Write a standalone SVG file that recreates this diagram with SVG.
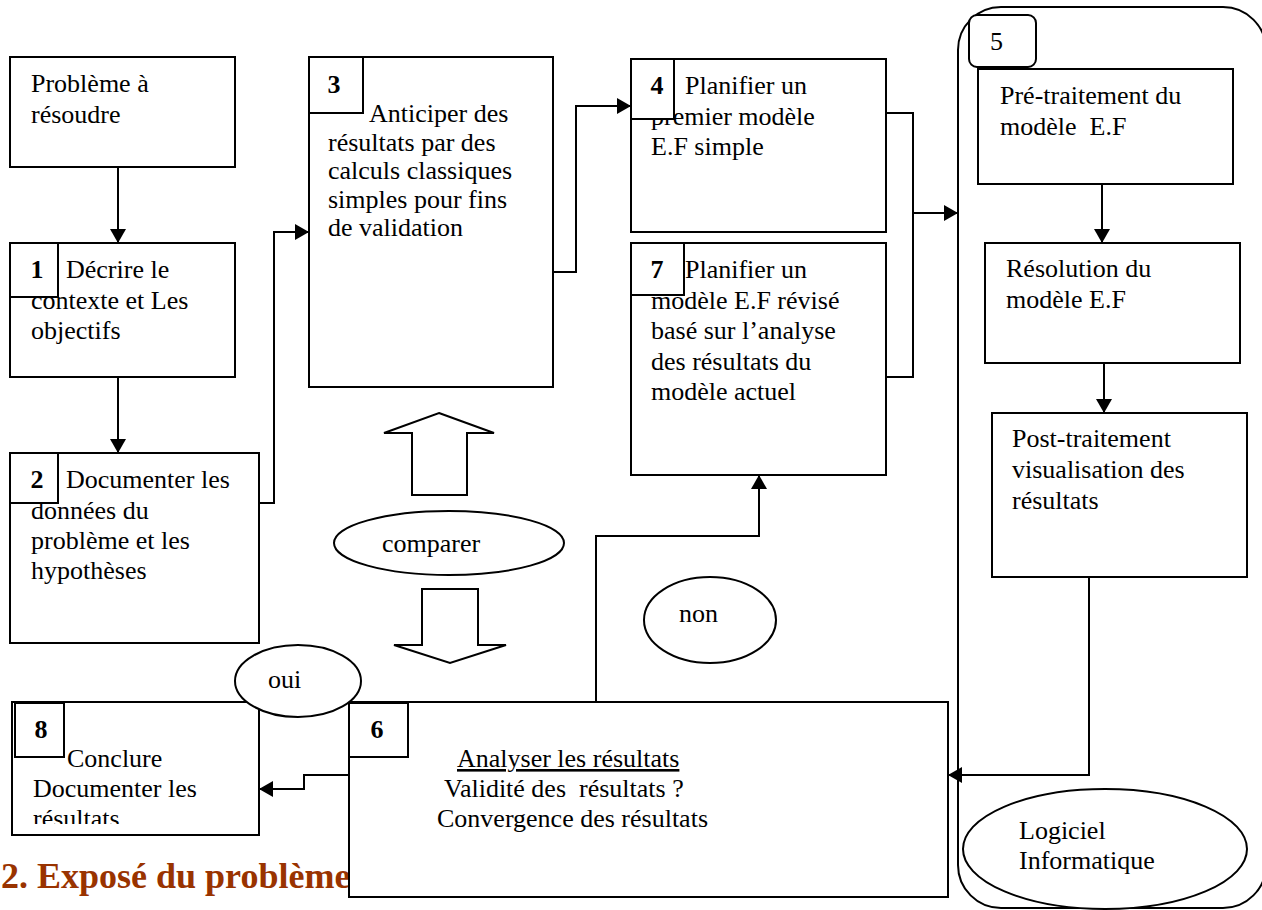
<svg xmlns="http://www.w3.org/2000/svg" width="1262" height="910" viewBox="0 0 1262 910">
<style>
.b{fill:#fff;stroke:#000;stroke-width:2}
.t{font-family:"Liberation Serif","Times New Roman",serif;font-size:26px;fill:#000}
.n{font-family:"Liberation Serif","Times New Roman",serif;font-size:26px;font-weight:bold;fill:#000;text-anchor:middle}
.c{fill:none;stroke:#000;stroke-width:2}
.h{font-family:"Liberation Serif","Times New Roman",serif;font-size:36px;font-weight:bold;fill:#993300}
</style>
<defs>
<marker id="ah" markerUnits="userSpaceOnUse" markerWidth="14" markerHeight="16" refX="14" refY="8" orient="auto">
<path d="M0,0 L14,8 L0,16 Z" fill="#000"/>
</marker>
<clipPath id="clip8"><rect x="12" y="702" width="247" height="122"/></clipPath>
</defs>
<rect width="1262" height="910" fill="#fff"/>

<g id="logiciel-frame">
<rect x="958" y="7" width="308" height="901" rx="43" ry="43" class="b"/>
</g>

<text class="h" x="1" y="888">2. Exposé du problème</text>

<g id="connectors">
<path class="c" d="M118,167 V243" marker-end="url(#ah)"/>
<path class="c" d="M118,377 V453" marker-end="url(#ah)"/>
<path class="c" d="M259,503 H274 V232 H309" marker-end="url(#ah)"/>
<path class="c" d="M553,272 H576 V106 H631" marker-end="url(#ah)"/>
<path class="c" d="M886,113 H913 V377 H886"/>
<path class="c" d="M913,213 H958" marker-end="url(#ah)"/>
<path class="c" d="M1102,184 V243" marker-end="url(#ah)"/>
<path class="c" d="M1104,363 V413" marker-end="url(#ah)"/>
<path class="c" d="M1089,577 V775 H948" marker-end="url(#ah)"/>
<path class="c" d="M596,702 V536 H759 V475" marker-end="url(#ah)"/>
<path class="c" d="M349,775 H304 V789 H259" marker-end="url(#ah)"/>
</g>

<g id="node-probleme">
<rect x="10" y="57" width="225" height="110" class="b"/>
<text class="t" x="31" y="92">Problème à</text>
<text class="t" x="31" y="123">résoudre</text>
</g>

<g id="node-1">
<rect x="10" y="243" width="225" height="134" class="b"/>
<text class="t" x="66" y="278">Décrire le</text>
<text class="t" x="31" y="309">contexte et Les</text>
<text class="t" x="31" y="339">objectifs</text>
<rect x="10" y="243" width="48" height="54" class="b"/>
<text class="n" x="37" y="278">1</text>
</g>

<g id="node-2">
<rect x="10" y="453" width="249" height="190" class="b"/>
<text class="t" x="66" y="488">Documenter les</text>
<text class="t" x="31" y="519">données du</text>
<text class="t" x="31" y="549">problème et les</text>
<text class="t" x="31" y="579">hypothèses</text>
<rect x="10" y="453" width="48" height="50" class="b"/>
<text class="n" x="37" y="488">2</text>
</g>

<g id="node-3">
<rect x="309" y="57" width="244" height="330" class="b"/>
<rect x="309" y="57" width="54" height="56" class="b"/>
<text class="n" x="334" y="93">3</text>
<text class="t" x="369" y="122">Anticiper des</text>
<text class="t" x="328" y="150.5">résultats par des</text>
<text class="t" x="328" y="179">calculs classiques</text>
<text class="t" x="328" y="207.5">simples pour fins</text>
<text class="t" x="328" y="236">de validation</text>
</g>

<g id="node-4">
<rect x="631" y="59" width="255" height="173" class="b"/>
<text class="t" x="685" y="94">Planifier un</text>
<text class="t" x="651" y="124.5">premier modèle</text>
<text class="t" x="651" y="155">E.F simple</text>
<rect x="631" y="59" width="43" height="60" class="b"/>
<text class="n" x="657" y="94">4</text>
</g>

<g id="node-7">
<rect x="631" y="243" width="255" height="232" class="b"/>
<text class="t" x="685" y="278">Planifier un</text>
<text class="t" x="651" y="308.5">modèle E.F révisé</text>
<text class="t" x="651" y="339">basé sur l’analyse</text>
<text class="t" x="651" y="369.5">des résultats du</text>
<text class="t" x="651" y="400">modèle actuel</text>
<rect x="631" y="243" width="53" height="52" class="b"/>
<text class="n" x="657" y="278">7</text>
</g>

<g id="node-5-label">
<rect x="969" y="15" width="67" height="52" rx="8" ry="8" class="b"/>
<text class="t" x="990" y="50">5</text>
</g>

<g id="node-pretraitement">
<rect x="978" y="69" width="255" height="115" class="b"/>
<text class="t" x="1000" y="104">Pré-traitement du</text>
<text class="t" x="1000" y="135" xml:space="preserve">modèle  E.F</text>
</g>

<g id="node-resolution">
<rect x="985" y="243" width="255" height="120" class="b"/>
<text class="t" x="1006" y="277">Résolution du</text>
<text class="t" x="1006" y="308">modèle E.F</text>
</g>

<g id="node-posttraitement">
<rect x="992" y="413" width="255" height="164" class="b"/>
<text class="t" x="1012" y="447">Post-traitement</text>
<text class="t" x="1012" y="478">visualisation des</text>
<text class="t" x="1012" y="509">résultats</text>
</g>

<g id="node-logiciel">
<ellipse cx="1105" cy="849" rx="142" ry="60" class="b"/>
<text class="t" x="1019" y="839">Logiciel</text>
<text class="t" x="1019" y="869">Informatique</text>
</g>

<g id="node-compare-arrows">
<path class="b" d="M439,413 L494,433 H467 V495 H412 V433 H384 Z"/>
<path class="b" d="M422,589 H478 V645 H506 L450,663 L394,645 H422 Z"/>
</g>

<g id="node-comparer">
<ellipse cx="449" cy="543" rx="115" ry="32" class="b"/>
<text class="t" x="382" y="552">comparer</text>
</g>

<g id="node-non">
<ellipse cx="710" cy="620" rx="66" ry="43" class="b"/>
<text class="t" x="679" y="622">non</text>
</g>

<g id="node-8">
<rect x="12" y="702" width="247" height="133" class="b"/>
<g clip-path="url(#clip8)">
<text class="t" x="67" y="767">Conclure</text>
<text class="t" x="33" y="797">Documenter les</text>
<text class="t" x="33" y="827">résultats</text>
</g>
<rect x="15" y="703" width="49" height="54" class="b"/>
<text class="n" x="41" y="738">8</text>
</g>

<g id="node-6">
<rect x="349" y="702" width="599" height="195" class="b"/>
<rect x="349" y="703" width="59" height="54" class="b"/>
<text class="n" x="377" y="738">6</text>
<text class="t" x="457" y="767" text-decoration="underline">Analyser les résultats</text>
<text class="t" x="444" y="797" xml:space="preserve">Validité des  résultats ?</text>
<text class="t" x="437" y="827">Convergence des résultats</text>
</g>

<g id="node-oui">
<ellipse cx="298" cy="681" rx="63" ry="36" class="b"/>
<text class="t" x="268" y="688">oui</text>
</g>
</svg>
